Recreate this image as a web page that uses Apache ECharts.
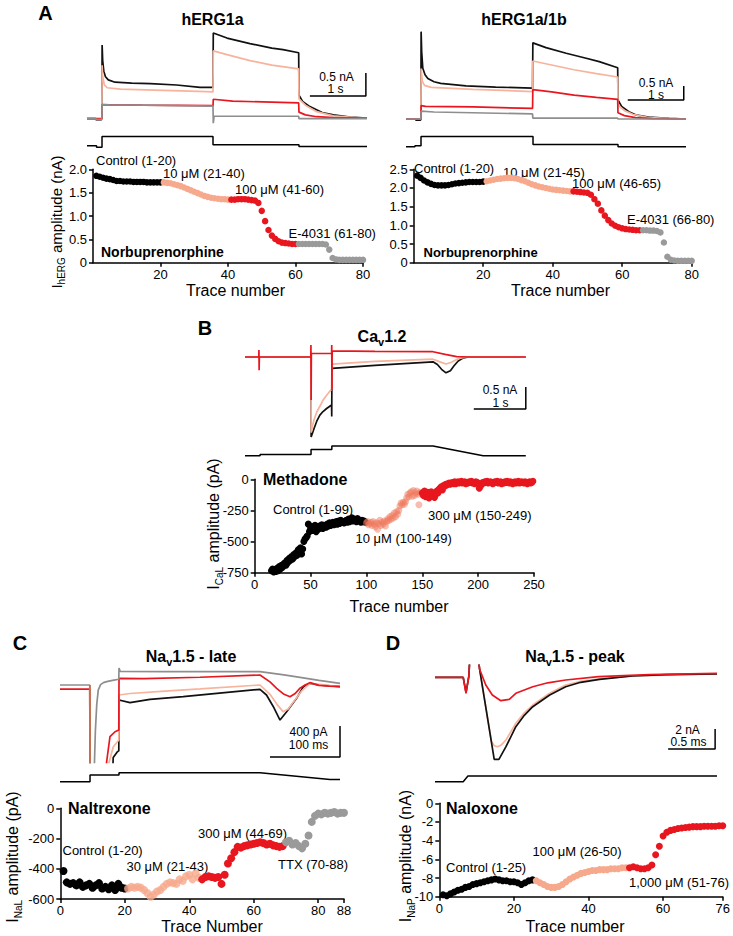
<!DOCTYPE html>
<html><head><meta charset="utf-8">
<script src="https://cdn.jsdelivr.net/npm/echarts/dist/echarts.min.js"></script>
<style>html,body{margin:0;padding:0;background:#fff}#c{width:733px;height:936px}</style>
</head><body><div id="c"></div>
<script>
// ---------- scatter data (trace number starts, amplitudes) ----------
const aCtrl1 = [1.86,1.84,1.82,1.80,1.79,1.77,1.75,1.75,1.74,1.74,1.74,1.73,1.73,1.73,1.73,1.72,1.72,1.72,1.72,1.72];
const a10uM1 = [1.72,1.71,1.70,1.68,1.66,1.64,1.61,1.58,1.55,1.52,1.49,1.46,1.43,1.41,1.39,1.38,1.37,1.36,1.36,1.35];
const a100uM1 = [1.35,1.35,1.36,1.36,1.36,1.35,1.34,1.33,1.28,1.11,0.89,0.70,0.58,0.51,0.46,0.43,0.42,0.41,0.40,0.40];
const aE4031_1 = [0.40,0.40,0.40,0.40,0.40,0.40,0.40,0.40,0.39,0.28,0.10,0.07,0.06,0.06,0.06,0.06,0.06,0.06,0.06,0.06];

const aCtrl2 = [2.33,2.27,2.20,2.15,2.11,2.08,2.07,2.07,2.07,2.08,2.10,2.12,2.13,2.14,2.15,2.16,2.16,2.16,2.16,2.17];
const a10uM2 = [2.18,2.20,2.22,2.24,2.25,2.26,2.27,2.27,2.26,2.24,2.21,2.18,2.14,2.10,2.07,2.04,2.02,2.00,1.98,1.96,1.95,1.94,1.93,1.92,1.91];
const a100uM2 = [1.91,1.90,1.89,1.88,1.87,1.82,1.70,1.58,1.40,1.26,1.14,1.05,0.99,0.95,0.92,0.90,0.89,0.88,0.87,0.87];
const aE4031_2 = [0.87,0.87,0.86,0.86,0.85,0.81,0.54,0.16,0.08,0.06,0.05,0.05,0.05,0.05,0.05];

const bCtrl = [
-735,-720,-745,-730,-740,-715,-735,-700,-720,-690,
-705,-680,-670,-690,-650,-665,-635,-650,-620,-640,
-605,-620,-590,-610,-565,-590,-550,-600,-560,-500,
-480,-470,-455,-360,-420,-400,-380,-410,-395,-370,
-420,-385,-400,-375,-390,-365,-395,-370,-380,-385,
-360,-375,-350,-370,-355,-345,-365,-350,-340,-360,
-335,-355,-330,-345,-340,-350,-335,-330,-345,-320,
-340,-325,-310,-335,-320,-330,-340,-315,-330,-335,
-345,-330,-340,-335,-345];
const b10uM = [
-350,-340,-365,-355,-345,-370,-340,-360,-380,-350,
-400,-355,-330,-370,-345,-360,-335,-375,-340,-320,
-330,-300,-320,-290,-310,-270,-300,-260,-280,-250,
-215,-190,-205,-185,-200,-180,-150,-120,-140,-110,
-100,-135,-90,-130,-110,-95,-120,-205,-105,-115];
const b300uM = [
-110,-130,-95,-140,-120,-105,-150,-125,-100,-135,
-115,-145,-120,-95,-110,-80,-70,-60,-85,-50,
-55,-40,-45,-35,-30,-40,-30,-25,-35,-20,
-35,-25,-20,-30,-25,-15,-30,-25,-20,-35,
-25,-30,-20,-25,-15,-30,-25,-35,-20,-25,
-30,-72,-55,-40,-25,-30,-20,-25,-15,-30,
-25,-20,-25,-35,-30,-20,-25,-15,-30,-25,
-20,-35,-25,-30,-20,-25,-15,-25,-30,-20,
-25,-35,-25,-20,-30,-25,-15,-30,-25,-20,
-25,-30,-20,-25,-35,-25,-20,-30,-25,-15];

const cCtrl = [-415,-490,-500,-495,-510,-490,-520,-510,-500,-525,-510,-495,-530,-520,-535,-510,-540,-500,-525,-530];
const c30uM = [-530,-520,-525,-520,-525,-540,-560,-585,-570,-550,-540,-520,-500,-490,-495,-500,-470,-480,-450,-440,-470,-430,-460];
const c300uM = [-470,-455,-450,-455,-460,-455,-500,-440,-365,-330,-290,-255,-260,-250,-245,-240,-235,-230,-225,-230,-240,-235,-245,-250,-255,-250];
const cTTX = [-225,-215,-240,-230,-250,-265,-235,-180,-90,-50,-35,-40,-30,-35,-30,-25,-35,-30,-30];

const dCtrl = [-9.8,-9.9,-9.7,-9.5,-9.3,-9.2,-9.0,-8.9,-8.7,-8.6,-8.5,-8.4,-8.3,-8.2,-8.1,-8.2,-8.3,-8.3,-8.4,-8.4,-8.5,-8.7,-8.5,-8.3,-8.2];
const d100uM = [-8.3,-8.5,-8.7,-8.9,-9.0,-9.0,-8.9,-8.7,-8.4,-8.1,-7.9,-7.7,-7.5,-7.4,-7.3,-7.2,-7.2,-7.1,-7.1,-7.1,-7.0,-7.0,-7.0,-6.9,-6.9];
const d1000uM = [-6.9,-6.8,-6.9,-7.0,-7.0,-6.9,-6.6,-5.5,-4.6,-3.5,-3.1,-2.9,-2.8,-2.7,-2.65,-2.6,-2.55,-2.5,-2.5,-2.5,-2.45,-2.45,-2.45,-2.45,-2.4,-2.4];

// ---------- current traces [time, current] ----------
const tA1Black = [[0,0],[0.15,0],[0.17,-0.04],[0.25,-0.04],[0.265,0],[0.27,1.59],[0.28,1.25],[0.30,1.02],[0.33,0.90],[0.38,0.83],[0.5,0.78],[0.8,0.76],[1.13,0.75],[1.6,0.72],[2.02,0.67],[2.25,0.67],[2.255,1.85],[2.5,1.74],[2.91,1.62],[3.3,1.52],[3.5,1.49],[3.78,1.42],[3.785,0.50],[3.85,0.36],[3.98,0.25],[4.2,0.12],[4.4,0.07],[4.7,0.02],[5.0,0.0]];
const tA1Salmon = [[0,0],[0.265,0],[0.27,1.15],[0.28,0.9],[0.31,0.72],[0.36,0.66],[0.6,0.63],[1.2,0.61],[2.0,0.58],[2.25,0.57],[2.255,1.46],[2.5,1.38],[2.91,1.25],[3.3,1.15],[3.78,1.07],[3.785,0.42],[3.9,0.28],[4.1,0.14],[4.4,0.05],[4.8,0.01],[5.0,0]];
const tA1Red = [[0,-0.02],[0.265,-0.02],[0.27,0.29],[1.0,0.28],[2.25,0.27],[2.255,0.41],[2.6,0.37],[3.78,0.33],[3.785,0.13],[3.9,0.07],[4.1,0.03],[4.4,0.01],[5.0,0]];
const tA1Gray = [[0,-0.01],[0.15,-0.01],[0.17,-0.04],[0.25,-0.04],[0.265,-0.02],[0.27,0.30],[0.4,0.29],[1.0,0.28],[2.25,0.26],[2.255,-0.11],[2.27,0.04],[3.78,0.04],[3.785,-0.01],[5.0,-0.01]];

const tA2Black = [[0,0],[0.16,0],[0.18,-0.04],[0.26,-0.04],[0.265,0],[0.27,3.12],[0.28,2.4],[0.30,1.81],[0.34,1.58],[0.39,1.45],[0.5,1.33],[0.62,1.27],[1.07,1.18],[1.6,1.14],[2.26,1.10],[2.265,2.72],[2.5,2.55],[2.86,2.35],[3.2,2.18],[3.45,2.05],[3.78,1.83],[3.785,0.68],[3.85,0.45],[3.98,0.26],[4.1,0.15],[4.33,0.07],[4.7,0.02],[5,0]];
const tA2Salmon = [[0,0],[0.265,0],[0.27,1.8],[0.29,1.35],[0.33,1.2],[0.45,1.13],[1.2,1.06],[2.26,0.98],[2.265,2.07],[2.6,1.93],[3.0,1.76],[3.4,1.62],[3.78,1.5],[3.785,0.5],[3.9,0.3],[4.05,0.17],[4.33,0.05],[5,0]];
const tA2Red = [[0,0],[0.265,0],[0.27,0.48],[0.35,0.45],[1.2,0.43],[2.26,0.38],[2.265,1.05],[2.6,0.97],[3.0,0.85],[3.4,0.77],[3.78,0.70],[3.785,0.22],[3.9,0.12],[4.1,0.05],[4.4,0.01],[5,0]];
const tA2Gray = [[0,0],[0.265,0],[0.27,0.28],[0.5,0.25],[2.26,0.18],[2.265,0.03],[3.78,0.03],[3.785,0],[5,0]];

const tBBlack = [[0,0],[1.27,0],[1.272,-1.82],[1.30,-1.72],[1.33,-1.62],[1.38,-1.46],[1.44,-1.32],[1.5,-1.24],[1.57,-1.17],[1.665,-1.09],[1.668,-1.35],[1.672,-0.26],[2.5,-0.19],[3.615,-0.11],[3.70,-0.17],[3.78,-0.28],[3.865,-0.36],[3.95,-0.31],[4.02,-0.2],[4.1,-0.09],[4.2,-0.02],[4.3,0],[5.4,0]];
const tBSalmon = [[0,0],[1.27,0],[1.272,-1.72],[1.30,-1.55],[1.33,-1.42],[1.38,-1.25],[1.44,-1.12],[1.5,-0.98],[1.57,-0.87],[1.665,-0.73],[1.672,-0.16],[2.5,-0.1],[3.615,-0.05],[3.75,-0.11],[3.865,-0.16],[3.97,-0.12],[4.1,-0.04],[4.25,0],[5.4,0]];
const tBRed = [[0,0],[0.265,0],[0.268,0.16],[0.272,-0.30],[0.276,0],[1.266,0],[1.268,0.27],[1.272,-0.98],[1.276,0.08],[1.666,0.08],[1.668,0.27],[1.672,-0.75],[1.676,0.14],[2.5,0.13],[3.615,0.12],[3.85,0.06],[4.07,0.01],[4.3,0],[5.4,0]];

const tCGray = [[0,0],[42.5,0],[42.9,-1200],[48.6,-1200],[50.5,-600],[52.5,-250],[54.7,-64],[58,5],[62,30],[66.7,43],[75,60],[84,74],[84.3,220],[86,175],[150,172],[285.7,172],[320,130],[342.9,99],[370,60],[400,22]];
const tCRed = [[0,-52],[42.5,-52],[42.9,-1200],[65.7,-1200],[66.5,-1000],[71.4,-667],[78.6,-603],[84,-581],[84.3,86],[120,82],[200,100],[285.7,129],[300,40],[309.5,-43],[320,-120],[328.6,-151],[336,-110],[342.9,-40],[350,0],[357,30],[370,-5],[385,-15],[400,-22]];
const tCSalmon = [[42.9,-1200],[67,-1200],[70,-1000],[76,-800],[84,-710],[84.3,-129],[100,-110],[150,-78],[200,-50],[285.7,0],[300,-120],[310,-250],[318.6,-344],[326,-310],[335,-200],[345,-80],[357,22],[370,10],[400,-20]];
const tCBlack = [[42.9,-1200],[75,-1200],[76,-935],[82,-860],[84,-850],[84.3,-194],[100,-228],[128.6,-185],[176,-151],[224,-108],[285.7,-56],[295,-129],[304.8,-280],[314.3,-452],[323.8,-344],[338,-172],[347.6,-22],[357,22],[370,0],[400,-20]];
const tCArtifact = [[42.9,0],[42.9,-1200]];

const tDBlack = [[0,-0.4],[0.30,-0.4],[0.33,-1.9],[0.36,-0.3],[0.37,1.5],[0.46,1.5],[0.475,0.4],[0.63,-8.6],[0.68,-8.6],[0.755,-7.34],[0.86,-5.34],[0.95,-4.2],[1.04,-3.34],[1.22,-2.17],[1.39,-1.34],[1.55,-0.9],[1.75,-0.6],[2.1,-0.27],[2.46,-0.14],[3.0,-0.05]];
const tDSalmon = [[0.475,0.4],[0.60,-6.8],[0.63,-7.25],[0.665,-7.34],[0.70,-7.2],[0.755,-6.67],[0.86,-5.0],[0.95,-3.95],[1.04,-3.17],[1.22,-2.0],[1.39,-1.17],[1.55,-0.8],[1.75,-0.55],[2.1,-0.25],[3.0,-0.05]];
const tDRed = [[0,-0.4],[0.30,-0.4],[0.33,-2.0],[0.36,-0.3],[0.37,1.5],[0.46,1.5],[0.475,0.4],[0.54,-1.17],[0.61,-2.17],[0.70,-2.74],[0.79,-2.6],[0.86,-2.0],[1.04,-1.34],[1.2,-0.95],[1.39,-0.67],[1.74,-0.34],[2.28,-0.14],[3.0,0]];

// scale bars [time, current]
const sbA1 = [[3.98,0.48],[4.98,0.48],[4.98,0.98]];
const sbA2 = [[3.96,0.68],[4.96,0.68],[4.96,1.18]];
const sbB = [[4.40,-1.18],[5.40,-1.18],[5.40,-0.68]];
const sbC = [[300,-929],[400,-929],[400,-529]];
const sbD = [[2.48,-7.57],[2.98,-7.57],[2.98,-5.57]];

// voltage protocols [time, mV]
const pA1 = [[0,-79],[0.17,-79],[0.17,-86],[0.268,-86],[0.268,-33],[2.25,-33],[2.25,-74],[3.785,-74],[3.785,-83],[5,-83]];
const pA2 = [[0,-84],[0.16,-84],[0.16,-79],[0.268,-79],[0.268,-33],[2.268,-33],[2.268,-72],[3.786,-72],[3.786,-84],[5,-84]];
const pB = [[0,-79],[0.29,-79],[0.29,-72],[1.27,-72],[1.27,-47],[1.67,-47],[1.67,-30],[3.615,-30],[4.58,-79],[5.4,-79]];
const pC = [[0,-84],[42.9,-84],[42.9,-50],[84.3,-50],[84.3,-39],[285.7,-39],[385.7,-72],[400,-72]];
const pD = [[0,-84],[0.30,-84],[0.35,-55],[3.0,-55]];

// ---------- styling ----------
const FONT = "'Liberation Sans', Arial, Helvetica, sans-serif";
const K = '#111', SAL = '#f7b39c', RED = '#e8171f', GRY = '#8e8e8e';
const SK = '#000', SSAL = '#f6a98c', SRED = '#e8161e', SGRY = '#9a9a9a';
const TW = 1.7;

const seq = (start, vals) => vals.map((v, i) => [start + i, v]);

const grids = [
  {left:87, top:30.7, width:280, height:94.3},   //0 A1 traces
  {left:87, top:130, width:280, height:20},      //1 A1 protocol
  {left:93, top:169.3, width:270, height:93.4},  //2 A1 scatter
  {left:406, top:28, width:280, height:98},      //3 A2 traces
  {left:406, top:130, width:280, height:20},     //4 A2 protocol
  {left:413.7, top:169.3, width:278, height:93.4}, //5 A2 scatter
  {left:245, top:339.4, width:280.8, height:101.2}, //6 B traces
  {left:245, top:440, width:280.8, height:20},   //7 B protocol
  {left:254.7, top:479.3, width:279.3, height:93.4}, //8 B scatter
  {left:60, top:660.2, width:280, height:102.3}, //9 C traces
  {left:60, top:765, width:280, height:20},      //10 C protocol
  {left:60.3, top:808.3, width:283.7, height:90.7}, //11 C scatter
  {left:435, top:665.3, width:282, height:100},  //12 D traces
  {left:435, top:765, width:282, height:20},     //13 D protocol
  {left:439.3, top:803.3, width:285, height:93.4} //14 D scatter
];

const hid = (gi, min, max) => ({type:'value', gridIndex:gi, min, max, show:false});
const axStyle = {
  axisLine:{show:true, onZero:false, lineStyle:{color:'#000', width:1.5}},
  axisTick:{show:true, inside:false, length:4, lineStyle:{color:'#000', width:1.5}},
  splitLine:{show:false}
};
const visX = (gi, min, max, interval, extra) => Object.assign({type:'value', gridIndex:gi, min, max, interval,
  axisLabel:Object.assign({color:'#000', fontSize:13, fontFamily:FONT, margin:5}, (extra||{}))}, axStyle);
const visY = (gi, min, max, interval, fmt) => Object.assign({type:'value', gridIndex:gi, min, max, interval,
  axisLabel:{color:'#000', fontSize:13, fontFamily:FONT, margin:6, formatter:fmt}}, axStyle);

const f1 = v => v === 0 ? '0' : v.toFixed(1);

const xAxes = [
  hid(0,0,5), hid(1,0,5), visX(2,0,80,20,{showMinLabel:false}),
  hid(3,0,5), hid(4,0,5), visX(5,0,80,20,{showMinLabel:false}),
  hid(6,0,5.4), hid(7,0,5.4), visX(8,0,250,50),
  hid(9,0,400), hid(10,0,400), visX(11,0,88,20),
  hid(12,0,3), hid(13,0,3), visX(14,0,76,20)
];
const yAxes = [
  hid(0,-0.15,1.9), hid(1,-100,0), visY(2,0,2,0.5,f1),
  hid(3,-0.25,3.25), hid(4,-100,0), visY(5,0,2.5,0.5,f1),
  hid(6,-1.9,0.4), hid(7,-100,0), visY(8,-750,0,250),
  hid(9,-1000,320), hid(10,-100,0), visY(11,-600,0,200),
  hid(12,-9.2,0.8), hid(13,-100,0), visY(14,-10,0,2)
];

const ln = (gi, data, color, w) => ({type:'line', xAxisIndex:gi, yAxisIndex:gi, data, symbol:'none', showSymbol:false,
  lineStyle:{color, width:w||TW}, silent:true, animation:false, clip:true});
const sc = (gi, data, color, size, op) => ({type:'scatter', xAxisIndex:gi, yAxisIndex:gi, data, symbol:'circle',
  symbolSize:size, itemStyle:{color, opacity:op==null?1:op}, silent:true, animation:false});

const series = [
  // A1
  ln(0,tA1Black,K), ln(0,tA1Salmon,SAL), ln(0,tA1Red,RED), ln(0,tA1Gray,GRY), ln(0,sbA1,'#000',1.5),
  ln(1,pA1,'#000',1.5),
  sc(2,seq(1,aCtrl1),SK,6.5), sc(2,seq(21,a10uM1),SSAL,6.5), sc(2,seq(41,a100uM1),SRED,6.5), sc(2,seq(61,aE4031_1),SGRY,6.5),
  // A2
  ln(3,tA2Black,K), ln(3,tA2Salmon,SAL), ln(3,tA2Red,RED), ln(3,tA2Gray,GRY), ln(3,sbA2,'#000',1.5),
  ln(4,pA2,'#000',1.5),
  sc(5,seq(1,aCtrl2),SK,6.5), sc(5,seq(21,a10uM2),SSAL,6.5), sc(5,seq(46,a100uM2),SRED,6.5), sc(5,seq(66,aE4031_2),SGRY,6.5),
  // B
  ln(6,tBBlack,K), ln(6,tBSalmon,SAL), ln(6,tBRed,RED), ln(6,sbB,'#000',1.5),
  ln(7,pB,'#000',1.5),
  sc(8,seq(15,bCtrl),SK,7), sc(8,seq(100,b10uM),'#f07a5e',7,0.5), sc(8,seq(150,b300uM),SRED,7),
  // C
  ln(9,tCBlack,K), ln(9,tCSalmon,SAL), ln(9,tCRed,RED), ln(9,tCGray,GRY), ln(9,tCArtifact,'#cf6a45',1.5), ln(9,sbC,'#000',1.5),
  ln(10,pC,'#000',1.5),
  sc(11,seq(1,cCtrl),SK,8), sc(11,seq(21,c30uM),SSAL,8,0.8), sc(11,seq(44,c300uM),SRED,8), sc(11,seq(70,cTTX),SGRY,8),
  // D
  ln(12,tDSalmon,SAL), ln(12,tDBlack,K), ln(12,tDRed,RED), ln(12,sbD,'#000',1.5),
  ln(13,pD,'#000',1.5),
  sc(14,seq(1,dCtrl),SK,7), sc(14,seq(26,d100uM),SSAL,7), sc(14,seq(51,d1000uM),SRED,7)
];

// ---------- texts ----------
const T = (x, y, text, size, opts) => Object.assign({type:'text', x, y, silent:true,
  style:Object.assign({text, fill:'#000', fontSize:size||13, fontFamily:FONT, align:'left', verticalAlign:'middle'}, (opts||{}))});
const B = (x, y, text, size, opts) => T(x, y, text, size, Object.assign({fontWeight:'bold'}, opts||{}));
const subRich = (main, sub, bold) => ({
  m:{fontSize:main, fontFamily:FONT, fontWeight:bold?'bold':'normal', lineHeight:main+6, verticalAlign:'middle', fill:'#000'},
  s:{fontSize:sub, fontFamily:FONT, fontWeight:bold?'bold':'normal', lineHeight:sub, verticalAlign:'bottom', fill:'#000'}
});
const RT = (x, y, text, rich, rot) => ({type:'text', x, y, rotation:rot||0, silent:true,
  style:{text, rich, align:'center', verticalAlign:'middle', fontFamily:FONT}});
const SB = (x, y, text) => T(x, y, text, 12, {align:'center'});

const graphic = [
  B(45.5, 13, 'A', 20, {align:'center'}),
  B(205, 328, 'B', 20, {align:'center'}),
  B(20, 643, 'C', 20, {align:'center'}),
  B(393, 642.5, 'D', 20, {align:'center'}),
  // titles
  B(212.5, 19, 'hERG1a', 16, {align:'center'}),
  B(524, 19, 'hERG1a/1b', 16, {align:'center'}),
  RT(382, 336, '{m|Ca}{s|v}{m|1.2}', subRich(16, 11, true)),
  RT(191, 656, '{m|Na}{s|v}{m|1.5 - late}', subRich(16, 11, true)),
  RT(575, 656, '{m|Na}{s|v}{m|1.5 - peak}', subRich(16, 11, true)),
  // scale bar labels
  SB(336.5, 76.5, '0.5 nA'), SB(335.5, 89, '1 s'),
  SB(656, 82.5, '0.5 nA'), SB(656, 95, '1 s'),
  SB(500, 390, '0.5 nA'), SB(500.5, 402.5, '1 s'),
  SB(308.5, 732, '400 pA'), SB(308.5, 745, '100 ms'),
  SB(687.5, 729.5, '2 nA'), SB(688.5, 742, '0.5 ms'),
  // A1 annotations
  T(96, 160, 'Control (1-20)'), T(163, 173, '10 \u03bcM (21-40)'), T(235, 189, '100 \u03bcM (41-60)'),
  T(288.5, 233, 'E-4031 (61-80)'), B(101, 252, 'Norbuprenorphine', 14),
  // A2 annotations
  T(414, 168, 'Control (1-20)'), T(503, 172, '10 \u03bcM (21-45)'), T(572, 183.5, '100 \u03bcM (46-65)'),
  T(627, 219.5, 'E-4031 (66-80)'), B(423.5, 252.5, 'Norbuprenorphine', 13),
  // B annotations
  B(263, 479.5, 'Methadone', 16), T(273, 509.5, 'Control (1-99)'), T(355.5, 538.5, '10 \u03bcM (100-149)'),
  T(428, 515, '300 \u03bcM (150-249)'),
  // C annotations
  B(68, 808.5, 'Naltrexone', 16), T(62.5, 850, 'Control (1-20)'), T(126.5, 866, '30 \u03bcM (21-43)'),
  T(198, 833, '300 \u03bcM (44-69)'), T(278, 864.5, 'TTX (70-88)'),
  // D annotations
  B(446, 808.5, 'Naloxone', 16), T(446, 867.5, 'Control (1-25)'), T(532.5, 851, '100 \u03bcM (26-50)'),
  T(629, 882, '1,000 \u03bcM (51-76)'),
  // x axis names
  T(235.5, 290.5, 'Trace number', 16, {align:'center'}),
  T(560.5, 290.5, 'Trace number', 16, {align:'center'}),
  T(399, 606.5, 'Trace number', 16, {align:'center'}),
  T(212, 926.5, 'Trace Number', 16, {align:'center'}),
  T(575, 926.5, 'Trace number', 16, {align:'center'}),
  // y axis names (rotated)
  RT(56, 222, '{m|I}{s|hERG}{m| amplitude (nA)}', subRich(15, 10, false), Math.PI/2),
  RT(213, 524, '{m|I}{s|CaL}{m| amplitude (pA)}', subRich(16, 10, false), Math.PI/2),
  RT(12, 857, '{m|I}{s|NaL}{m| amplitude (pA)}', subRich(16, 10, false), Math.PI/2),
  RT(405, 856, '{m|I}{s|NaP}{m| amplitude (nA)}', subRich(16, 10, false), Math.PI/2)
];

const chart = echarts.init(document.getElementById('c'), null, {renderer:'svg', width:733, height:936});
chart.setOption({
  animation:false,
  backgroundColor:'#fff',
  grid:grids,
  xAxis:xAxes,
  yAxis:yAxes,
  series,
  graphic:{elements:graphic}
});
</script></body></html>
